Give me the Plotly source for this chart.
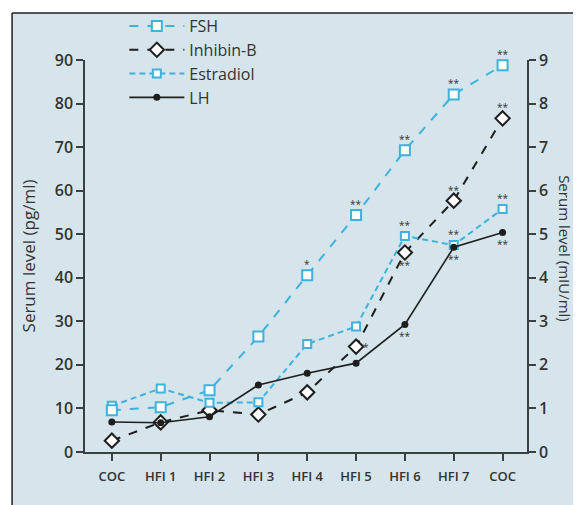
import plotly.graph_objects as go

# ---- data ----
x_labels = ["COC", "HFI 1", "HFI 2", "HFI 3", "HFI 4", "HFI 5", "HFI 6", "HFI 7", "COC"]
x_pos = list(range(len(x_labels)))

# right axis (mIU/ml)
fsh = [0.96, 1.03, 1.42, 2.65, 4.06, 5.44, 6.93, 8.21, 8.88]
lh = [0.69, 0.67, 0.81, 1.54, 1.81, 2.04, 2.93, 4.70, 5.04]
# left axis (pg/ml)
inhibin_b = [2.6, 6.8, 9.6, 8.6, 13.7, 24.2, 45.8, 57.7, 76.6]
estradiol = [10.6, 14.6, 11.3, 11.4, 24.8, 28.8, 49.6, 47.5, 55.8]

# significance marks
fsh_sig = ["", "", "", "", "*", "**", "**", "**", "**"]
inhibin_sig = ["", "", "", "", "", "*", "**", "**", "**"]
estradiol_sig = ["", "", "", "", "", "", "**", "**", "**"]
lh_sig = ["", "", "", "", "", "", "**", "**", "**"]

left_ticks = [0, 10, 20, 30, 40, 50, 60, 70, 80, 90]
right_ticks = [0, 1, 2, 3, 4, 5, 6, 7, 8, 9]

BLUE = "#3cb2dc"
BLACK = "#1e1e1e"
AXIS = "#3a3f42"
BG = "#d5e5eb"
TXT = "#333333"
FONT = "Open Sans"

fig = go.Figure()

fig.add_trace(go.Scatter(
    x=x_pos, y=fsh, name="FSH", yaxis="y2", mode="lines+markers",
    line=dict(color=BLUE, width=2, dash="dash"),
    marker=dict(symbol="square", size=10, color="white", line=dict(color=BLUE, width=2)),
    cliponaxis=False))
fig.add_trace(go.Scatter(
    x=x_pos, y=inhibin_b, name="Inhibin-B", yaxis="y", mode="lines+markers",
    line=dict(color=BLACK, width=2, dash="dash"),
    marker=dict(symbol="diamond", size=11, color="white", line=dict(color=BLACK, width=2)),
    cliponaxis=False))
fig.add_trace(go.Scatter(
    x=x_pos, y=estradiol, name="Estradiol", yaxis="y", mode="lines+markers",
    line=dict(color=BLUE, width=2, dash="6px,4px"),
    marker=dict(symbol="square", size=8, color="white", line=dict(color=BLUE, width=2)),
    cliponaxis=False))
fig.add_trace(go.Scatter(
    x=x_pos, y=lh, name="LH", yaxis="y2", mode="lines+markers",
    line=dict(color=BLACK, width=1.6),
    marker=dict(symbol="circle", size=7, color=BLACK),
    cliponaxis=False))


def add_sig(xs, ys, marks, yref, shifts):
    for xi, yi, m, (dx, dy) in zip(xs, ys, marks, shifts):
        if m:
            fig.add_annotation(x=xi, y=yi, xref="x", yref=yref, text=m, showarrow=False,
                               xshift=dx, yshift=dy,
                               font=dict(family=FONT, size=10, color=TXT))


up = (0, 11)
down = (0, -12)
add_sig(x_pos, fsh, fsh_sig, "y2", [up] * 9)
add_sig(x_pos, inhibin_b, inhibin_sig, "y", [up] * 5 + [(10, 0), down, up, up])
add_sig(x_pos, estradiol, estradiol_sig, "y", [up] * 9)
add_sig(x_pos, lh, lh_sig, "y2", [down] * 9)

# right axis title, reading top to bottom
fig.add_annotation(xref="paper", yref="paper", x=1.086, y=0.52, text="Serum level (mIU/ml)",
                   textangle=90, showarrow=False, xanchor="center", yanchor="middle",
                   font=dict(family=FONT, size=15, color=TXT))

# panel background with top and left border
fig.add_shape(type="rect", xref="paper", yref="paper", x0=-0.165, x1=1.2, y0=-0.2, y1=1.12,
              fillcolor=BG, line=dict(width=0), layer="below")
fig.add_shape(type="line", xref="paper", yref="paper", x0=-0.165, x1=1.2, y0=1.12, y1=1.12,
              line=dict(color="#222", width=1.5), layer="below")
fig.add_shape(type="line", xref="paper", yref="paper", x0=-0.165, x1=-0.165, y0=-0.2, y1=1.12,
              line=dict(color="#222", width=1.5), layer="below")

axis_common = dict(showline=True, linecolor=AXIS, linewidth=1.5, ticks="outside",
                   ticklen=7, tickwidth=1.5, tickcolor=AXIS, showgrid=False, zeroline=False,
                   automargin=False,
                   tickfont=dict(family=FONT, size=16, color=TXT, weight=600))

fig.update_layout(
    width=581, height=505,
    margin=dict(l=77, r=62, t=52, b=61, autoexpand=False),
    paper_bgcolor="white", plot_bgcolor=BG,
    font=dict(family=FONT, color=TXT),
    xaxis=dict(axis_common, range=[-0.55, 8.5], tickvals=x_pos, ticktext=x_labels,
               ticklabelstandoff=5,
               tickfont=dict(family=FONT, size=13, color=TXT, weight=600)),
    yaxis=dict(axis_common, range=[0, 90], tickvals=left_ticks,
               title=dict(text="Serum level (pg/ml)", standoff=15,
                          font=dict(family=FONT, size=17, color=TXT))),
    yaxis2=dict(axis_common, range=[0, 9], tickvals=right_ticks, overlaying="y", side="right"),
    legend=dict(x=0.089, y=1.13, xanchor="left", yanchor="top", bgcolor="rgba(0,0,0,0)",
                font=dict(family=FONT, size=16, color=TXT), itemwidth=55,
                tracegroupgap=0),
    showlegend=True,
)

fig.write_html("out.html")
